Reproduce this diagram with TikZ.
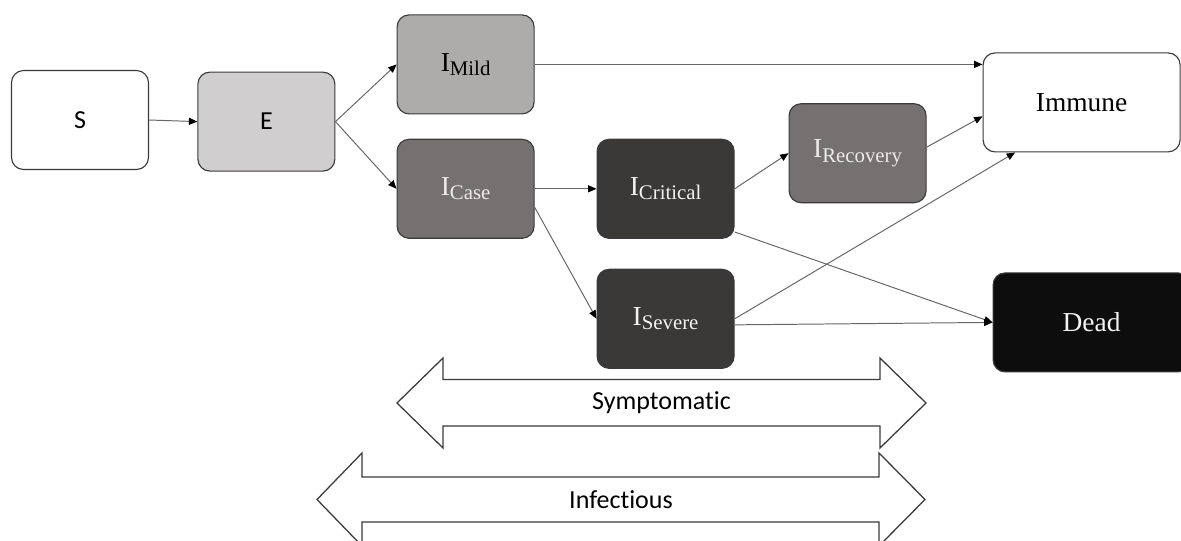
\documentclass[tikz,border=0pt]{standalone}
\usepackage{fontspec}
\setmainfont{Liberation Serif}
\newfontfamily\calibri[Ligatures=NoCommon]{Carlito}
\usetikzlibrary{arrows.meta}
\definecolor{boxl}{HTML}{D0CECE}
\definecolor{boxg}{HTML}{AEABAB}
\definecolor{boxm}{HTML}{757171}
\definecolor{boxd}{HTML}{3B3838}
\definecolor{boxk}{HTML}{0D0D0D}
\definecolor{rim}{HTML}{3A3A3A}
\newcommand{\sublab}[2]{#1\raisebox{-3pt}{\fontsize{14.8}{16}\selectfont #2}}
\tikzset{
    cnode/.style = {rectangle, rounded corners=0.3cm, draw=rim, line width=0.8pt, minimum width=3.425cm, minimum height=2.475cm, align=center, font=\fontsize{19.5}{22}\selectfont, text=black},
    cnodew/.style = {cnode, fill=white},
    cnodel/.style = {cnode, fill=boxl},
    cnodeg/.style = {cnode, fill=boxg},
    cnodem/.style = {cnode, fill=boxm, text=white!92!black},
    cnoded/.style = {cnode, fill=boxd, text=white!95!black},
    cnodek/.style = {cnode, fill=boxk, text=white!95!black},
    wide/.style = {minimum width=4.925cm},
    sans/.style = {font=\calibri\fontsize{18.5}{22}\selectfont},
    edgea/.style = {-{Triangle[length=6pt,width=5pt,color=black]}, line width=0.7pt, black!60}, % flow
    bigarrow/.style = {draw=rim, line width=0.9pt, fill=white}, % period
}

\begin{document}
\begin{tikzpicture}
\useasboundingbox (0,0) rectangle (29.525,-13.5);
\node[cnodew,sans] at (2.0,-3.0) (S) {S};
\node[cnodel,sans] at (6.66,-3.04) (E) {E};
\node[cnodeg] at (11.64,-1.61) (IMild) {\sublab{I}{Mild}};
\node[cnodem] at (11.64,-4.72) (ICase) {\sublab{I}{Case}};
\node[cnoded] at (16.64,-4.72) (ICritical) {\sublab{I}{Critical}};
\node[cnoded] at (16.64,-7.97) (ISevere) {\sublab{I}{Severe}};
\node[cnodem] at (21.44,-3.83) (IRecovery) {\sublab{I}{Recovery}};
\node[cnodew,wide] at (27.04,-2.56) (Immune) {Immune};
\node[cnodek,wide] at (27.29,-8.06) (Dead) {Dead};
%
\draw[edgea] (S.east) -- (E.west);
\draw[edgea] (E.east) -- (IMild.west);
\draw[edgea] (E.east) -- (ICase.west);
\draw[edgea] (IMild.east) -- (IMild.east -| Immune.west);
\draw[edgea] (ICase.east) -- (ICritical.west);
\draw[edgea] (ICase.-15) -- (ISevere.west);
\draw[edgea] (ICritical.east) -- (IRecovery.west);
\draw[edgea] (IRecovery.5) -- (Immune.188);
\draw[edgea] (ICritical.-32) -- (Dead.west);
\draw[edgea] (ISevere.east) -- (Immune.217);
\draw[edgea] (ISevere.-5) -- (Dead.west);
%
\draw[bigarrow] (9.925,-10.075) -- (11.075,-8.95) -- (11.075,-9.4875) -- (22.0,-9.4875) -- (22.0,-8.95)
    -- (23.15,-10.075) -- (22.0,-11.2) -- (22.0,-10.65) -- (11.075,-10.65) -- (11.075,-11.2) -- cycle;
\node[sans] at (16.5375,-10.075) (symp) {Symptomatic};
%
\draw[bigarrow] (7.925,-12.4875) -- (9.05,-11.325) -- (9.05,-11.925) -- (21.975,-11.925) -- (21.975,-11.325)
    -- (23.125,-12.4875) -- (21.975,-13.65) -- (21.975,-13.05) -- (9.05,-13.05) -- (9.05,-13.65) -- cycle;
\node[sans] at (15.525,-12.4875) (infe) {Infectious};


\end{tikzpicture}
\end{document}
